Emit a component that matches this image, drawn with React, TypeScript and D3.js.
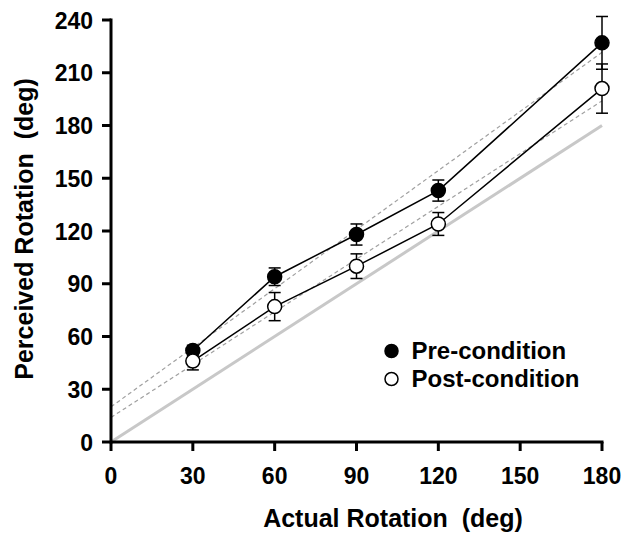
import React from "react";
import * as d3 from "d3";

const rotations = [30, 60, 90, 120, 180];
const preMean = [52, 94, 118, 143, 227];
const preErr = [3, 5, 6, 6, 15];
const postMean = [46, 77, 100, 124, 201];
const postErr = [5, 8, 7, 6.5, 14];
// fitted lines: [intercept, slope]
const preFit = [20, 1.12];
const postFit = [14, 1.0];
const xTicks = [0, 30, 60, 90, 120, 150, 180];
const yTicks = [0, 30, 60, 90, 120, 150, 180, 210, 240];

const W = 625;
const H = 539;
const font = "'Liberation Sans', Arial, sans-serif";

export default function App() {
  const x = d3.scaleLinear().domain([0, 180]).range([111, 602]);
  const y = d3.scaleLinear().domain([0, 240]).range([442, 20]);
  const line = d3
    .line<[number, number]>()
    .x((d) => x(d[0]))
    .y((d) => y(d[1]));

  const series = [
    { name: "Pre-condition", mean: preMean, err: preErr, fit: preFit, fill: "#000" },
    { name: "Post-condition", mean: postMean, err: postErr, fit: postFit, fill: "#fff" },
  ];

  return (
    <svg
      width={W}
      height={H}
      style={{ position: "absolute", left: 0, top: 0, background: "#fff" }}
      fontFamily={font}
      fontWeight="bold"
    >
      {/* identity line */}
      <path d={line([[0, 0], [180, 180]]) || ""} stroke="#c8c8c8" strokeWidth={3} fill="none" />

      {/* regression lines */}
      {series.map((s) => (
        <path
          key={"fit" + s.name}
          d={line([[0, s.fit[0]], [180, s.fit[0] + s.fit[1] * 180]]) || ""}
          stroke="#a0a0a0"
          strokeWidth={1.2}
          strokeDasharray="4,3"
          fill="none"
        />
      ))}

      {/* data lines + error bars + markers */}
      {series.map((s) => (
        <g key={s.name}>
          <path
            d={line(rotations.map((r, i) => [r, s.mean[i]] as [number, number])) || ""}
            stroke="#000"
            strokeWidth={1.5}
            fill="none"
          />
          {rotations.map((r, i) => {
            const cx = x(r);
            const y1 = y(s.mean[i] + s.err[i]);
            const y2 = y(s.mean[i] - s.err[i]);
            return (
              <g key={r} stroke="#000" strokeWidth={1.5}>
                <line x1={cx} x2={cx} y1={y1} y2={y2} />
                <line x1={cx - 6} x2={cx + 6} y1={y1} y2={y1} />
                <line x1={cx - 6} x2={cx + 6} y1={y2} y2={y2} />
              </g>
            );
          })}
          {rotations.map((r, i) => (
            <circle
              key={"c" + r}
              cx={x(r)}
              cy={y(s.mean[i])}
              r={7}
              fill={s.fill}
              stroke="#000"
              strokeWidth={1.5}
            />
          ))}
        </g>
      ))}

      {/* axes */}
      <g stroke="#000" strokeWidth={3}>
        <line x1={x(0)} x2={x(180) + 1.5} y1={y(0)} y2={y(0)} />
        <line x1={x(0)} x2={x(0)} y1={y(0) + 1.5} y2={y(240) - 1.5} />
        {xTicks.map((t) => (
          <line key={"xt" + t} x1={x(t)} x2={x(t)} y1={y(0)} y2={y(0) + 9} />
        ))}
        {yTicks.map((t) => (
          <line key={"yt" + t} x1={x(0) - 9} x2={x(0)} y1={y(t)} y2={y(t)} />
        ))}
      </g>
      {xTicks.map((t) => (
        <text key={"xl" + t} x={x(t)} y={484} textAnchor="middle" fontSize={23}>
          {t}
        </text>
      ))}
      {yTicks.map((t) => (
        <text key={"yl" + t} x={93} y={y(t) + 8.5} textAnchor="end" fontSize={23}>
          {t}
        </text>
      ))}

      {/* axis titles */}
      <text x={393} y={527} textAnchor="middle" fontSize={25} style={{ whiteSpace: "pre" }}>
        {"Actual Rotation  (deg)"}
      </text>
      <text
        transform={`translate(33, 229) rotate(-90)`}
        textAnchor="middle"
        fontSize={25}
        style={{ whiteSpace: "pre" }}
      >
        {"Perceived Rotation  (deg)"}
      </text>

      {/* legend */}
      {series.map((s, i) => (
        <g key={"lg" + s.name} transform={`translate(391.5, ${351 + i * 28})`}>
          <circle r={6.5} fill={s.fill} stroke="#000" strokeWidth={1.5} />
          <text x={20} y={8} fontSize={24}>
            {s.name}
          </text>
        </g>
      ))}
    </svg>
  );
}
